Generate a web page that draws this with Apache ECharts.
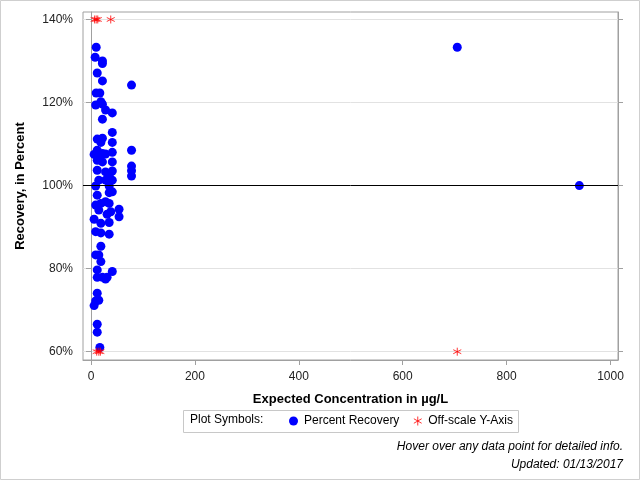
<!DOCTYPE html>
<html>
<head>
<meta charset="utf-8">
<script src="https://cdn.jsdelivr.net/npm/echarts@6/dist/echarts.min.js"></script>
<style>
  html, body { margin: 0; padding: 0; background: #fff; }
  #chart { width: 640px; height: 480px; }
</style>
</head>
<body>
<div id="chart"></div>
<script>
// Percent recovery points: expected concentration (ug/L) and recovery (%)
var recX = [10, 8, 22, 22, 12, 22, 78, 10, 17, 9, 19, 22, 28, 41, 22, 41, 12, 22, 19, 41,
            12, 6, 15, 22, 28, 41, 78, 12, 22, 41, 78, 78, 78, 12, 28, 41, 15, 28, 35, 41,
            9, 35, 940, 705, 12, 35, 41, 9, 19, 28, 35, 54, 54, 15, 31, 38, 6, 19, 35, 9,
            19, 35, 19, 9, 15, 19, 12, 41, 12, 22, 31, 28, 12, 15, 9, 6, 12, 12, 17];
var recY = [133.3, 130.9, 130.0, 129.4, 127.1, 125.2, 124.2, 122.3, 122.3, 119.4, 120.2, 119.6, 118.2, 117.5, 116.0, 112.8, 111.2, 111.4, 110.4, 110.4,
            108.5, 107.5, 107.1, 107.7, 107.6, 108.0, 108.5, 106.1, 105.7, 105.7, 104.7, 103.6, 102.3, 103.7, 103.3, 103.5, 101.3, 101.3, 102.5, 101.3,
            99.9, 99.9, 100.0, 133.3, 97.7, 98.3, 98.5, 95.3, 95.7, 96.1, 95.7, 94.3, 92.5, 94.1, 93.1, 93.7, 91.9, 90.9, 91.1, 88.9,
            88.6, 88.3, 85.4, 83.3, 83.3, 81.7, 79.7, 79.3, 77.9, 77.9, 77.9, 77.5, 74.1, 72.4, 72.2, 71.1, 66.6, 64.7, 61.0];

// off-scale points, drawn on the top / bottom edge
var offX = [7, 10, 13, 38, 11, 15, 18, 705];
var offY = [140, 140, 140, 140, 60, 60, 60, 60];

var xTicks = [0, 200, 400, 600, 800, 1000];
var yTicks = [60, 80, 100, 120, 140];

var recData = recX.map(function (x, i) { return [x, recY[i]]; });
var offData = offX.map(function (x, i) { return [x, offY[i]]; });

var star = 'path://M0,-10L0,10M-8.66,-5L8.66,5M-8.66,5L8.66,-5';
var font = 'Arial, "Liberation Sans", sans-serif';
var frame = '#a0a0a0';

var chart = echarts.init(document.getElementById('chart'));
chart.setOption({
  animation: false,
  textStyle: { fontFamily: font },
  grid: {
    left: 83, right: 22, top: 12, bottom: 120,
    show: true, borderColor: frame, borderWidth: 1
  },
  xAxis: {
    type: 'value',
    min: -15.4, max: 1014.4,
    name: 'Expected Concentration in µg/L',
    nameLocation: 'middle',
    nameGap: 33,
    nameTextStyle: { fontFamily: font, fontSize: 13, fontWeight: 'bold', color: '#000' },
    axisLine: { show: true, lineStyle: { color: frame } },
    axisTick: { show: true, length: 5, customValues: xTicks, lineStyle: { color: frame } },
    axisLabel: { customValues: xTicks, margin: 11, fontSize: 12, color: '#222', fontFamily: font,
                 formatter: function (v) { return String(v); } },
    splitLine: { show: false }
  },
  yAxis: [{
    type: 'value',
    min: 58, max: 141.8,
    name: 'Recovery, in Percent',
    nameLocation: 'middle',
    nameGap: 56,
    nameTextStyle: { fontFamily: font, fontSize: 13, fontWeight: 'bold', color: '#000' },
    axisLine: { show: true, lineStyle: { color: frame } },
    axisTick: { show: true, length: 5, customValues: yTicks, lineStyle: { color: frame } },
    axisLabel: { customValues: yTicks, margin: 10, fontSize: 12, color: '#222', fontFamily: font,
                 formatter: '{value}%' },
    splitLine: { show: true, lineStyle: { color: '#e2e2e2' } }
  }, {
    type: 'value',
    position: 'right',
    min: 58, max: 141.8,
    axisLine: { show: true, lineStyle: { color: frame } },
    axisTick: { show: true, length: 5, customValues: yTicks, lineStyle: { color: frame } },
    axisLabel: { show: false },
    splitLine: { show: false }
  }],
  legend: {
    left: 289, top: 414, padding: 0,
    itemWidth: 9, itemHeight: 9, itemGap: 12,
    selectedMode: false,
    textStyle: { fontSize: 12, color: '#000', fontFamily: font, padding: [0, 0, 0, 1] },
    data: [
      { name: 'Percent Recovery', icon: 'circle' },
      { name: 'Off-scale Y-Axis', icon: star, itemStyle: { color: 'none', borderColor: '#ff0000', borderWidth: 1 } }
    ]
  },
  graphic: [
    { type: 'rect', shape: { x: 0.5, y: 0.5, width: 639, height: 479 },
      style: { fill: 'none', stroke: '#cfcfcf', lineWidth: 1 }, silent: true },
    { type: 'rect', shape: { x: 183.5, y: 410.5, width: 335, height: 22 },
      style: { fill: 'none', stroke: '#c8c8c8', lineWidth: 1 }, silent: true },
    { type: 'text', left: 190, top: 414,
      style: { text: 'Plot Symbols:', font: '12px ' + font, fill: '#000' } },
    { type: 'text', right: 17, top: 441,
      style: { text: 'Hover over any data point for detailed info.', font: 'italic 12px ' + font, fill: '#000', textAlign: 'right' } },
    { type: 'text', right: 17, top: 459,
      style: { text: 'Updated: 01/13/2017', font: 'italic 12px ' + font, fill: '#000', textAlign: 'right' } }
  ],
  series: [{
    name: 'Percent Recovery',
    type: 'scatter',
    symbol: 'circle',
    symbolSize: 9,
    clip: false,
    itemStyle: { color: '#0000ff', opacity: 1 },
    data: recData,
    markLine: {
      silent: true,
      symbol: 'none',
      label: { show: false },
      lineStyle: { color: '#000', type: 'solid', width: 1 },
      data: [{ yAxis: 100 }]
    }
  }, {
    name: 'Off-scale Y-Axis',
    type: 'scatter',
    symbol: star,
    symbolSize: 8,
    clip: false,
    itemStyle: { color: 'none', borderColor: '#ff0000', borderWidth: 1 },
    data: offData
  }]
});
</script>
</body>
</html>
